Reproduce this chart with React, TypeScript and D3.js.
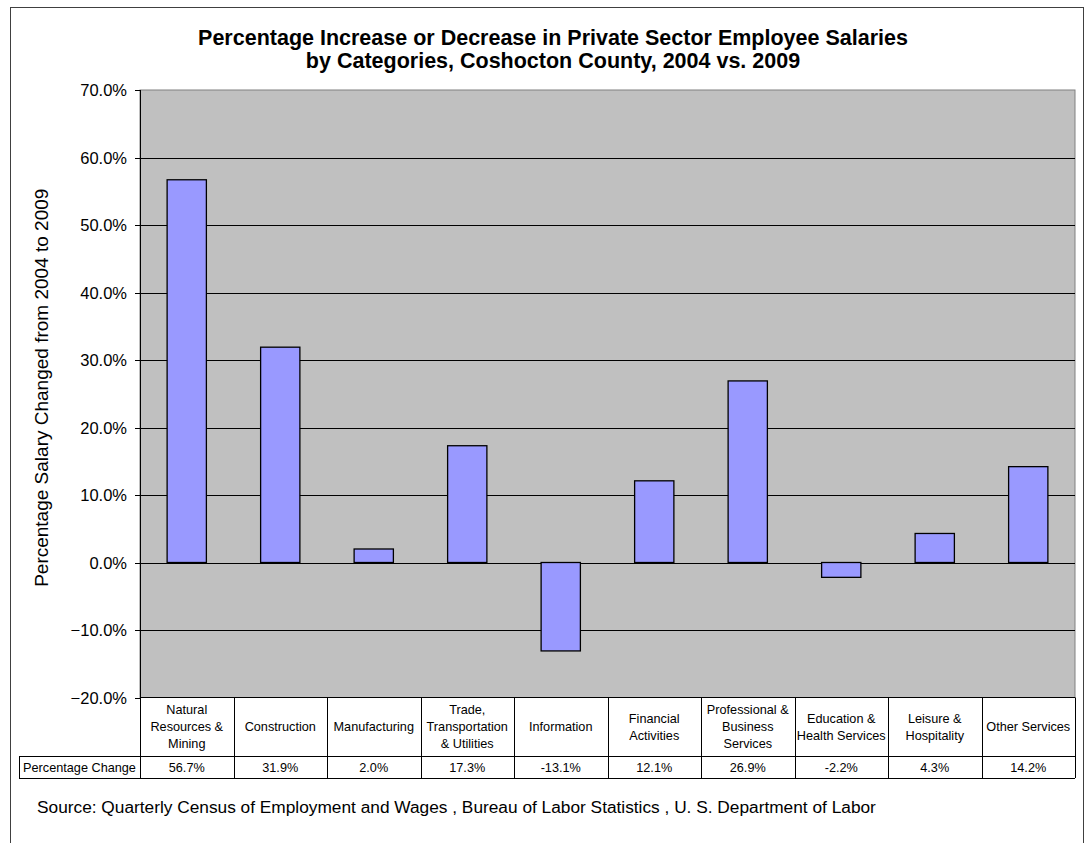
import React from "react";
import * as d3 from "d3";

const categories: string[][] = [
  ["Natural", "Resources &", "Mining"],
  ["Construction"],
  ["Manufacturing"],
  ["Trade,", "Transportation", "& Utilities"],
  ["Information"],
  ["Financial", "Activities"],
  ["Professional &", "Business", "Services"],
  ["Education &", "Health Services"],
  ["Leisure &", "Hospitality"],
  ["Other Services"],
];
const values: number[] = [56.7, 31.9, 2.0, 17.3, -13.1, 12.1, 26.9, -2.2, 4.3, 14.2];
const valueLabels: string[] = ["56.7%", "31.9%", "2.0%", "17.3%", "-13.1%", "12.1%", "26.9%", "-2.2%", "4.3%", "14.2%"];
const yTicks: number[] = [-20, -10, 0, 10, 20, 30, 40, 50, 60, 70];
const titleLines: string[] = [
  "Percentage Increase or Decrease in Private Sector Employee Salaries",
  "by Categories, Coshocton County, 2004 vs. 2009",
];
const yAxisTitle = "Percentage Salary Changed from 2004 to 2009";
const rowLabel = "Percentage Change";
const sourceText =
  "Source: Quarterly Census of Employment and Wages , Bureau of Labor Statistics , U. S. Department of Labor";

const W = 1089;
const H = 843;
const plotL = 140;
const plotR = 1075;
const plotT = 90;
const plotB = 697.5;
const headerB = 756;
const rowB = 778;
const font = "'Liberation Sans', Arial, sans-serif";

export default function App() {
  const idx = categories.map((_, i) => String(i));
  const x = d3.scaleBand<string>().domain(idx).range([plotL, plotR]).paddingInner(0.58).paddingOuter(0.29);
  const xCol = d3.scaleBand<string>().domain(idx).range([plotL, plotR]);
  const y = d3.scaleLinear().domain([-20, 70]).range([plotB, plotT]);
  const tfs = 12.7;

  return (
    <svg width={W} height={H} style={{ position: "absolute", left: 0, top: 0 }} fontFamily={font}>
      <rect x={0} y={0} width={W} height={H} fill="#fff" />
      <rect x={10.5} y={7.5} width={1073} height={H} fill="#fff" stroke="#404040" strokeWidth={1} />
      {titleLines.map((t, i) => (
        <text key={i} x={553} y={44.5 + i * 23.5} textAnchor="middle" fontSize={21.5} fontWeight="bold" fill="#000">
          {t}
        </text>
      ))}
      <rect x={plotL} y={plotT} width={plotR - plotL} height={plotB - plotT} fill="#c0c0c0" stroke="#808080" strokeWidth={1} />
      {yTicks.map((t) => (
        <g key={t}>
          {t !== -20 && t !== 70 && (
            <line x1={plotL} x2={plotR} y1={Math.round(y(t)) + 0.5} y2={Math.round(y(t)) + 0.5} stroke="#000" strokeWidth={1} />
          )}
          <line x1={plotL - 5} x2={plotL} y1={Math.round(y(t)) + 0.5} y2={Math.round(y(t)) + 0.5} stroke="#000" />
          <text x={127} y={y(t) + 6} textAnchor="end" fontSize={16.5} fill="#000">
            {d3.format(".1f")(t) + "%"}
          </text>
        </g>
      ))}
      <line x1={plotL + 0.5} x2={plotL + 0.5} y1={plotT} y2={plotB} stroke="#000" />
      {values.map((v, i) => {
        const y0 = y(0);
        const yv = y(v);
        return (
          <rect
            key={i}
            x={x(String(i))!}
            y={Math.min(y0, yv)}
            width={x.bandwidth()}
            height={Math.abs(yv - y0)}
            fill="#9999ff"
            stroke="#000"
            strokeWidth={1.3}
          />
        );
      })}
      <text
        transform={`translate(48,${(plotT + plotB) / 2 - 6}) rotate(-90)`}
        textAnchor="middle"
        fontSize={19}
        fill="#000"
      >
        {yAxisTitle}
      </text>
      {/* data table */}
      <line x1={plotL} x2={plotR} y1={plotB} y2={plotB} stroke="#000" />
      <line x1={19} x2={plotR} y1={headerB + 0.5} y2={headerB + 0.5} stroke="#000" />
      <line x1={19} x2={plotR} y1={rowB + 0.5} y2={rowB + 0.5} stroke="#000" />
      <line x1={19.5} x2={19.5} y1={headerB} y2={rowB} stroke="#000" />
      {idx.map((k) => (
        <line key={k} x1={Math.round(xCol(k)!) + 0.5} x2={Math.round(xCol(k)!) + 0.5} y1={plotB} y2={rowB} stroke="#000" />
      ))}
      <line x1={plotR + 0.5} x2={plotR + 0.5} y1={plotB} y2={rowB} stroke="#000" />
      {categories.map((lines, i) => {
        const cx = xCol(String(i))! + xCol.bandwidth() / 2;
        const midY = (plotB + headerB) / 2;
        const lh = 17;
        const start = midY - ((lines.length - 1) * lh) / 2;
        return lines.map((ln, j) => (
          <text key={i + "-" + j} x={cx} y={start + j * lh + 4.5} textAnchor="middle" fontSize={tfs} fill="#000">
            {ln}
          </text>
        ));
      })}
      <text x={(19 + plotL) / 2} y={(headerB + rowB) / 2 + 4.5} textAnchor="middle" fontSize={tfs} fill="#000">
        {rowLabel}
      </text>
      {valueLabels.map((v, i) => (
        <text
          key={i}
          x={xCol(String(i))! + xCol.bandwidth() / 2}
          y={(headerB + rowB) / 2 + 4.5}
          textAnchor="middle"
          fontSize={tfs}
          fill="#000"
        >
          {v}
        </text>
      ))}
      <text x={37} y={813} fontSize={17.3} fill="#000">
        {sourceText}
      </text>
    </svg>
  );
}
